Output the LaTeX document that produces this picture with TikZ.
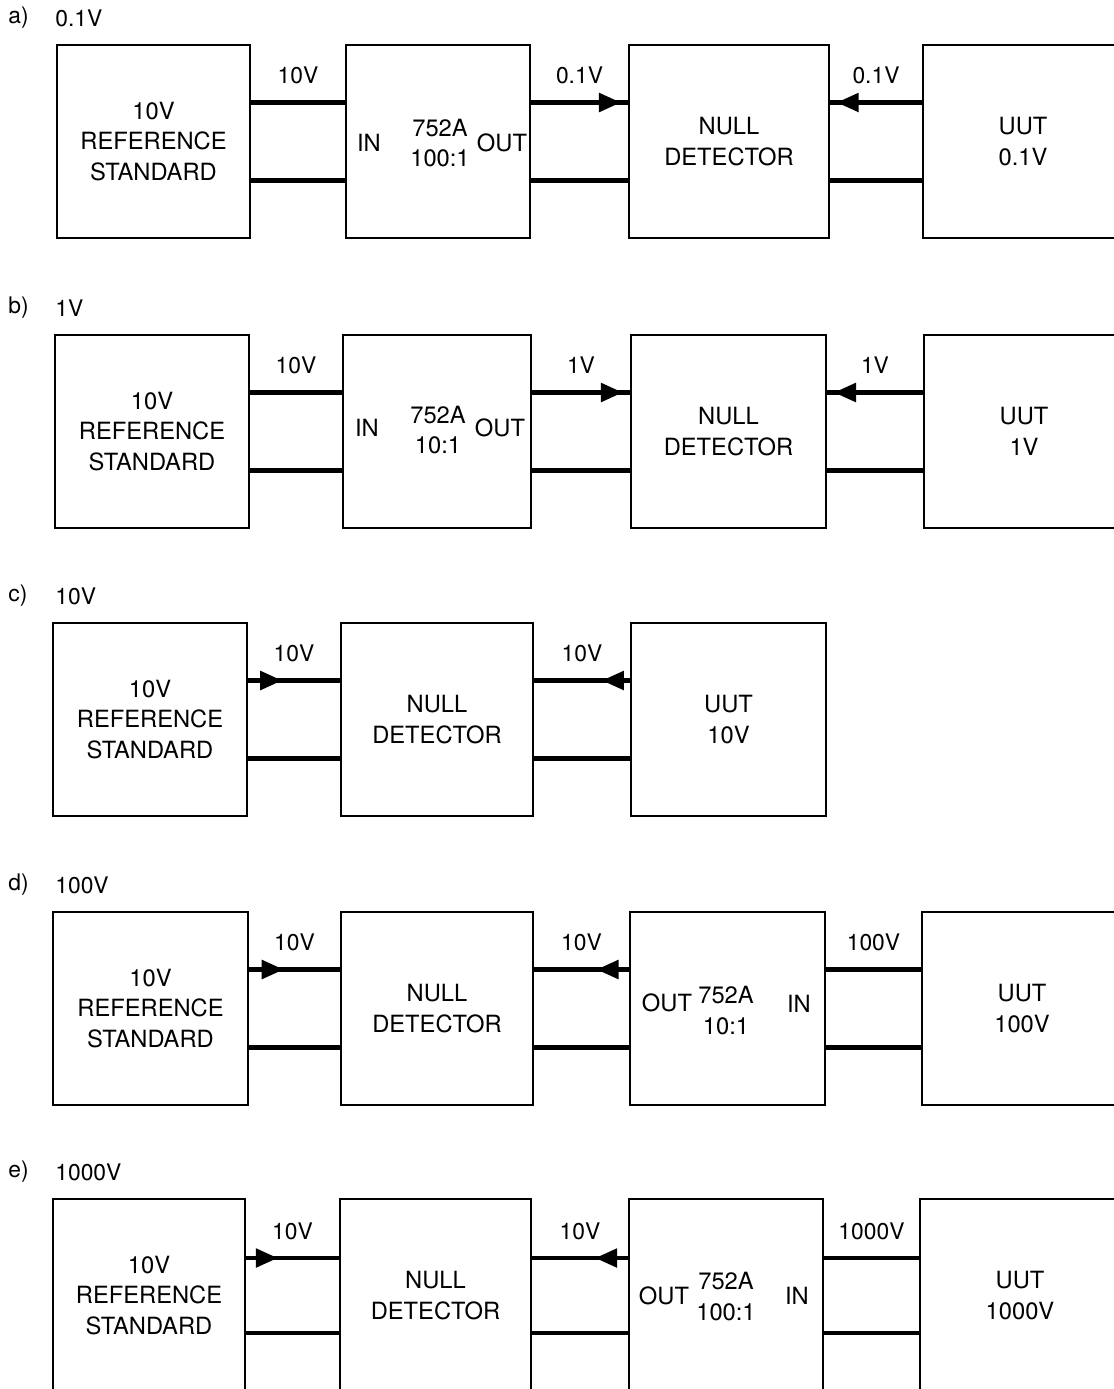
\documentclass[tikz,border=0pt]{standalone}
\usepackage{fontspec}
\setmainfont{TeX Gyre Heros}
\usetikzlibrary{arrows.meta,decorations.markings}
\newcommand{\Rotulo}[3]{%
  \node[etiqueta,anchor=west] (#1) at (8,-27) {#2)};
  \node[etiqueta,anchor=west] (#1v) at (55,-27) {#3};
}

\begin{document}
\begin{tikzpicture}[x=0.02cm,y=-0.02cm,
    caja/.style={draw,line width=1.6pt,minimum height=3.86cm,inner sep=0pt,
      align=center,font=\fontsize{13.5}{17.6}\selectfont},
    texto/.style={inner sep=0pt,align=center,font=\fontsize{13.5}{17.6}\selectfont},
    etiqueta/.style={inner sep=0pt,font=\fontsize{13}{15}\selectfont},
    cable/.style={line width=2.4pt},
    flechader/.style={postaction={decorate,decoration={markings,
      mark=at position #1 with {\arrow{Triangle[length=12.5pt,width=10.5pt]}}}}},
    flechaizq/.style={postaction={decorate,decoration={markings,
      mark=at position #1 with {\arrowreversed{Triangle[length=12.5pt,width=10.5pt]}}}}}]
    \useasboundingbox (0,0) rectangle (1114,1389);
    \clip (0,0) rectangle (1114,1389);

    % a) 0.1V
    \begin{scope}[shift={(0,45)}]
      \Rotulo{pa}{a}{0.1V}
      \node[caja,minimum width=3.86cm] (refA) at (153.5,96.5) {10V\\REFERENCE\\STANDARD};
      \node[caja,minimum width=3.68cm] (divA) at (438,96.5) {};
      \node[texto] (divAin) at (369,98) {IN};
      \node[texto] (divAk) at (440,98) {752A\\100:1};
      \node[texto] (divAout) at (502,98) {OUT};
      \node[caja,minimum width=4cm] (nullA) at (729,96.5) {NULL\\DETECTOR};
      \node[caja,minimum width=4cm] (uutA) at (1023,96.5) {UUT\\0.1V};
      \draw[cable] ([yshift=0.78cm]refA.east) -- ([yshift=0.78cm]divA.west)
        node[etiqueta,midway,yshift=0.54cm] (vA1) {10V};
      \draw[cable,flechader=0.93] ([yshift=0.78cm]divA.east) -- ([yshift=0.78cm]nullA.west)
        node[etiqueta,midway,yshift=0.54cm] (vA2) {0.1V};
      \draw[cable,flechaizq=0.07] ([yshift=0.78cm]nullA.east) -- ([yshift=0.78cm]uutA.west)
        node[etiqueta,midway,yshift=0.54cm] (vA3) {0.1V};
      \draw[cable] ([yshift=-0.78cm]refA.east) -- ([yshift=-0.78cm]divA.west);
      \draw[cable] ([yshift=-0.78cm]divA.east) -- ([yshift=-0.78cm]nullA.west);
      \draw[cable] ([yshift=-0.78cm]nullA.east) -- ([yshift=-0.78cm]uutA.west);
    \end{scope}

    % b) 1V
    \begin{scope}[shift={(0,335)}]
      \Rotulo{pb}{b}{1V}
      \node[caja,minimum width=3.88cm] (refB) at (152,96.5) {10V\\REFERENCE\\STANDARD};
      \node[caja,minimum width=3.76cm] (divB) at (437,96.5) {};
      \node[texto] (divBin) at (367,93) {IN};
      \node[texto] (divBk) at (438,95) {752A\\10:1};
      \node[texto] (divBout) at (500,93) {OUT};
      \node[caja,minimum width=3.9cm] (nullB) at (728.5,96.5) {NULL\\DETECTOR};
      \node[caja,minimum width=4cm] (uutB) at (1024,96.5) {UUT\\1V};
      \draw[cable] ([yshift=0.78cm]refB.east) -- ([yshift=0.78cm]divB.west)
        node[etiqueta,midway,yshift=0.54cm] (vB1) {10V};
      \draw[cable,flechader=0.93] ([yshift=0.78cm]divB.east) -- ([yshift=0.78cm]nullB.west)
        node[etiqueta,midway,yshift=0.54cm] (vB2) {1V};
      \draw[cable,flechaizq=0.07] ([yshift=0.78cm]nullB.east) -- ([yshift=0.78cm]uutB.west)
        node[etiqueta,midway,yshift=0.54cm] (vB3) {1V};
      \draw[cable] ([yshift=-0.78cm]refB.east) -- ([yshift=-0.78cm]divB.west);
      \draw[cable] ([yshift=-0.78cm]divB.east) -- ([yshift=-0.78cm]nullB.west);
      \draw[cable] ([yshift=-0.78cm]nullB.east) -- ([yshift=-0.78cm]uutB.west);
    \end{scope}

    % c) 10V
    \begin{scope}[shift={(0,623)}]
      \Rotulo{pc}{c}{10V}
      \node[caja,minimum width=3.88cm] (refC) at (150,96.5) {10V\\REFERENCE\\STANDARD};
      \node[caja,minimum width=3.84cm] (nullC) at (437,96.5) {NULL\\DETECTOR};
      \node[caja,minimum width=3.9cm] (uutC) at (728.5,96.5) {UUT\\10V};
      \draw[cable,flechader=0.37] ([yshift=0.78cm]refC.east) -- ([yshift=0.78cm]nullC.west)
        node[etiqueta,midway,yshift=0.54cm] (vC1) {10V};
      \draw[cable,flechaizq=0.71] ([yshift=0.78cm]nullC.east) -- ([yshift=0.78cm]uutC.west)
        node[etiqueta,midway,yshift=0.54cm] (vC2) {10V};
      \draw[cable] ([yshift=-0.78cm]refC.east) -- ([yshift=-0.78cm]nullC.west);
      \draw[cable] ([yshift=-0.78cm]nullC.east) -- ([yshift=-0.78cm]uutC.west);
    \end{scope}

    % d) 100V
    \begin{scope}[shift={(0,912)}]
      \Rotulo{pd}{d}{100V}
      \node[caja,minimum width=3.9cm] (refD) at (150.5,96.5) {10V\\REFERENCE\\STANDARD};
      \node[caja,minimum width=3.84cm] (nullD) at (437,96.5) {NULL\\DETECTOR};
      \node[caja,minimum width=3.9cm] (divD) at (727.5,96.5) {};
      \node[texto] (divDout) at (667,91) {OUT};
      \node[texto] (divDk) at (726,98.5) {752A\\10:1};
      \node[texto] (divDin) at (799,92) {IN};
      \node[caja,minimum width=4cm] (uutD) at (1022,96.5) {UUT\\100V};
      \draw[cable,flechader=0.38] ([yshift=0.78cm]refD.east) -- ([yshift=0.78cm]nullD.west)
        node[etiqueta,midway,yshift=0.54cm] (vD1) {10V};
      \draw[cable,flechaizq=0.66] ([yshift=0.78cm]nullD.east) -- ([yshift=0.78cm]divD.west)
        node[etiqueta,midway,yshift=0.54cm] (vD2) {10V};
      \draw[cable] ([yshift=0.78cm]divD.east) -- ([yshift=0.78cm]uutD.west)
        node[etiqueta,midway,yshift=0.54cm] (vD3) {100V};
      \draw[cable] ([yshift=-0.78cm]refD.east) -- ([yshift=-0.78cm]nullD.west);
      \draw[cable] ([yshift=-0.78cm]nullD.east) -- ([yshift=-0.78cm]divD.west);
      \draw[cable] ([yshift=-0.78cm]divD.east) -- ([yshift=-0.78cm]uutD.west);
    \end{scope}

    % e) 1000V
    \begin{scope}[shift={(0,1199)}]
      \Rotulo{pe}{e}{1000V}
      \node[caja,minimum width=3.84cm] (refE) at (149,96.5) {10V\\REFERENCE\\STANDARD};
      \node[caja,minimum width=3.82cm] (nullE) at (435.5,96.5) {NULL\\DETECTOR};
      \node[caja,minimum width=3.88cm] (divE) at (726,96.5) {};
      \node[texto] (divEout) at (664,97) {OUT};
      \node[texto] (divEk) at (726,97.5) {752A\\100:1};
      \node[texto] (divEin) at (797,97) {IN};
      \node[caja,minimum width=4cm] (uutE) at (1020,96.5) {UUT\\1000V};
      \draw[cable,flechader=0.34] ([yshift=0.75cm]refE.east) -- ([yshift=0.75cm]nullE.west)
        node[etiqueta,midway,yshift=0.54cm] (vE1) {10V};
      \draw[cable,flechaizq=0.66] ([yshift=0.75cm]nullE.east) -- ([yshift=0.75cm]divE.west)
        node[etiqueta,midway,yshift=0.54cm] (vE2) {10V};
      \draw[cable] ([yshift=0.75cm]divE.east) -- ([yshift=0.75cm]uutE.west)
        node[etiqueta,midway,yshift=0.54cm] (vE3) {1000V};
      \draw[cable] ([yshift=-0.75cm]refE.east) -- ([yshift=-0.75cm]nullE.west);
      \draw[cable] ([yshift=-0.75cm]nullE.east) -- ([yshift=-0.75cm]divE.west);
      \draw[cable] ([yshift=-0.75cm]divE.east) -- ([yshift=-0.75cm]uutE.west);
    \end{scope}
\end{tikzpicture}
\end{document}
